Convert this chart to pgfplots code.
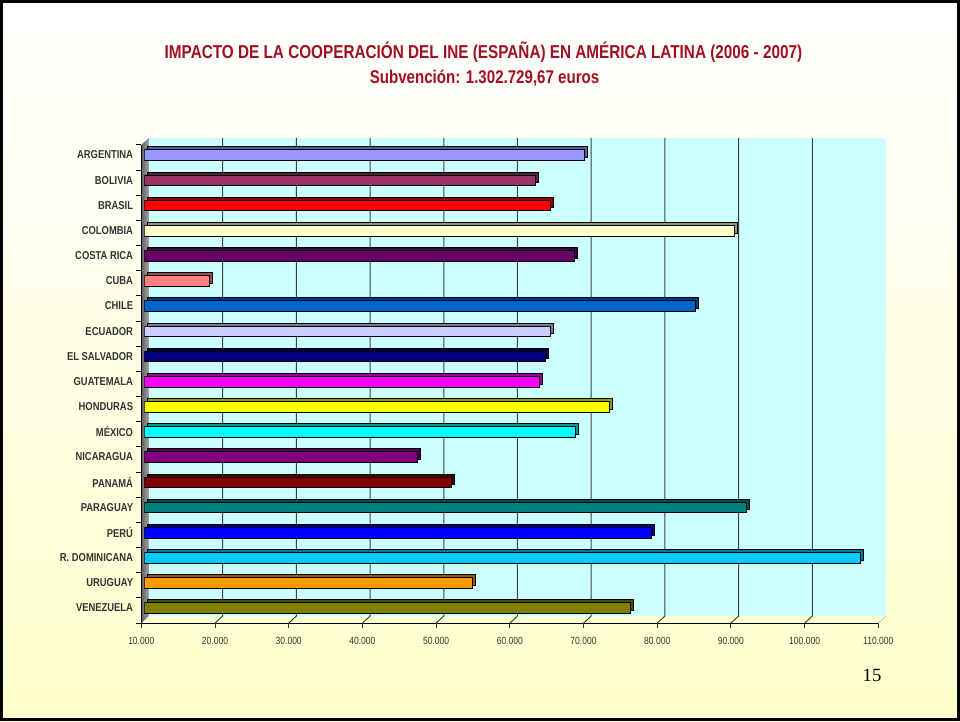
\documentclass[border=0pt]{standalone}
\usepackage{fontspec}
\setmainfont{Liberation Sans}
\newfontfamily\narrow[FakeStretch=0.82]{Liberation Sans}
\newfontfamily\serif{Liberation Serif}
\usepackage{pgfplots}
\pgfplotsset{compat=1.18}

\definecolor{bgy}{HTML}{FFFFCC}
\definecolor{wallc}{HTML}{CCFFFF}
\definecolor{titlec}{RGB}{160,16,32}
\definecolor{floorc}{HTML}{9CC4CC}
\definecolor{cARG}{HTML}{9999FF}
\definecolor{cBOL}{HTML}{993366}
\definecolor{cBRA}{HTML}{FF0000}
\definecolor{cCOL}{HTML}{FFFFCC}
\definecolor{cCRI}{HTML}{660066}
\definecolor{cCUB}{HTML}{FF8080}
\definecolor{cCHL}{HTML}{0066CC}
\definecolor{cECU}{HTML}{CCCCFF}
\definecolor{cSLV}{HTML}{000080}
\definecolor{cGTM}{HTML}{FF00FF}
\definecolor{cHND}{HTML}{FFFF00}
\definecolor{cMEX}{HTML}{00FFFF}
\definecolor{cNIC}{HTML}{800080}
\definecolor{cPAN}{HTML}{800000}
\definecolor{cPRY}{HTML}{008080}
\definecolor{cPER}{HTML}{0000FF}
\definecolor{cDOM}{HTML}{00CCFF}
\definecolor{cURY}{HTML}{FF9900}
\definecolor{cVEN}{HTML}{808000}

\tikzset{
  bk/.style={shift={(3.5pt,3.4pt)}},
  ft/.style={shift={(-2.25pt,-1.9pt)}},
}

\pgfplotsset{
  common/.style={
    at={(108.225pt,75.3pt)}, anchor=south west,
    scale only axis, width=552.75pt, height=358.65pt,
    xmin=10000, xmax=110000, ymin=-0.5, ymax=18.5, y dir=reverse,
    scaled x ticks=false, scaled y ticks=false,
  },
  fr/.style={xbar, bar width=8pt, bar shift=0pt, fill=#1, draw=black, line width=0.4pt,
    preaction={draw=black, fill=#1!60!black, line width=0.4pt,
      transform canvas={xshift=2.25pt,yshift=2.25pt}}},
}

\begin{document}
\begin{tikzpicture}
% slide background and frame
\shade[top color=white, bottom color=bgy] (0,0) rectangle (720pt,540.75pt);
\draw[line width=2.25pt] (1.125pt,1.125pt) rectangle (718.875pt,539.625pt);

% titles
\node[text=titlec, font=\narrow\bfseries\fontsize{14}{16}\selectfont] at (362.6pt,501.75pt)
  {IMPACTO DE LA COOPERACIÓN DEL INE (ESPAÑA) EN AMÉRICA LATINA (2006 - 2007)};
\node[text=titlec, font=\narrow\bfseries\fontsize{13.8}{16}\selectfont] at (363.4pt,482.25pt)
  {Subvención: 1.302.729,67 euros};
\node[font=\serif\fontsize{14}{16}\selectfont] at (654pt,34.5pt) {15};

% walls, grid and axis lines
\begin{axis}[common, clip=false, axis line style={draw=none}, ticks=none]
\addplot[draw=none] coordinates {(10000,0)};
\fill[wallc] ([bk]axis cs:10000,18.5) rectangle ([bk]axis cs:110000,-0.5);
\shade[left color=black!62, right color=black!35]
  ([ft]axis cs:10000,-0.5) -- ([bk]axis cs:10000,-0.5) -- ([bk]axis cs:10000,18.5)
  -- ([ft]axis cs:10000,18.5) -- cycle;
\pgfplotsinvokeforeach{20000,30000,40000,50000,60000,70000,80000,90000,100000}{
  \draw[black!75, line width=0.75pt] ([ft]axis cs:#1,18.5) -- ([bk]axis cs:#1,18.5) -- ([bk]axis cs:#1,-0.5);
}
\draw[floorc, line width=0.6pt] ([ft]axis cs:110000,18.5) -- ([bk]axis cs:110000,18.5);
\draw[black, line width=0.75pt] ([ft]axis cs:10000,-0.5) -- ([ft]axis cs:10000,18.5) -- ([ft]axis cs:110000,18.5);
\pgfplotsinvokeforeach{10000,20000,30000,40000,50000,60000,70000,80000,90000,100000,110000}{
  \draw[black!80, line width=0.75pt] ([ft]axis cs:#1,18.5) -- ([ft,yshift=-3.75pt]axis cs:#1,18.5);
}
\pgfplotsinvokeforeach{-0.5,0.5,1.5,2.5,3.5,4.5,5.5,6.5,7.5,8.5,9.5,10.5,11.5,12.5,13.5,14.5,15.5,16.5,17.5,18.5}{
  \draw[black, line width=0.75pt] ([ft]axis cs:10000,#1) -- ([ft,xshift=-3.75pt]axis cs:10000,#1);
}
\end{axis}

% bars
\begin{axis}[common, clip=true,
  axis line style={draw=none}, tick style={draw=none},
  xtick={10000,20000,30000,40000,50000,60000,70000,80000,90000,100000,110000},
  xticklabels={10.000,20.000,30.000,40.000,50.000,60.000,70.000,80.000,90.000,100.000,110.000},
  xticklabel style={font=\narrow\fontsize{7.8}{8}\selectfont, text=black!80, anchor=center, inner sep=0pt, xshift=-2.25pt, yshift=-15.6pt},
  ytick={0,1,2,3,4,5,6,7,8,9,10,11,12,13,14,15,16,17,18},
  yticklabels={ARGENTINA,BOLIVIA,BRASIL,COLOMBIA,COSTA RICA,CUBA,CHILE,ECUADOR,EL SALVADOR,GUATEMALA,HONDURAS,MÉXICO,NICARAGUA,PANAMÁ,PARAGUAY,PERÚ,R. DOMINICANA,URUGUAY,VENEZUELA},
  yticklabel style={font=\narrow\bfseries\fontsize{8.6}{9}\selectfont, text=black!80, anchor=east, inner sep=0pt, xshift=-8.25pt},
  /pgf/number format/assume math mode=true,
]
\addplot[fr=cARG] coordinates {(69700,0)};
\addplot[fr=cBOL] coordinates {(63100,1)};
\addplot[fr=cBRA] coordinates {(65050,2)};
\addplot[fr=cCOL] coordinates {(90000,3)};
\addplot[fr=cCRI] coordinates {(68350,4)};
\addplot[fr=cCUB] coordinates {(18870,5)};
\addplot[fr=cCHL] coordinates {(84800,6)};
\addplot[fr=cECU] coordinates {(65050,7)};
\addplot[fr=cSLV] coordinates {(64370,8)};
\addplot[fr=cGTM] coordinates {(63650,9)};
\addplot[fr=cHND] coordinates {(73050,10)};
\addplot[fr=cMEX] coordinates {(68440,11)};
\addplot[fr=cNIC] coordinates {(47100,12)};
\addplot[fr=cPAN] coordinates {(51710,13)};
\addplot[fr=cPRY] coordinates {(91740,14)};
\addplot[fr=cPER] coordinates {(78850,15)};
\addplot[fr=cDOM] coordinates {(107210,16)};
\addplot[fr=cURY] coordinates {(54500,17)};
\addplot[fr=cVEN] coordinates {(76000,18)};
\end{axis}
\end{tikzpicture}
\end{document}
